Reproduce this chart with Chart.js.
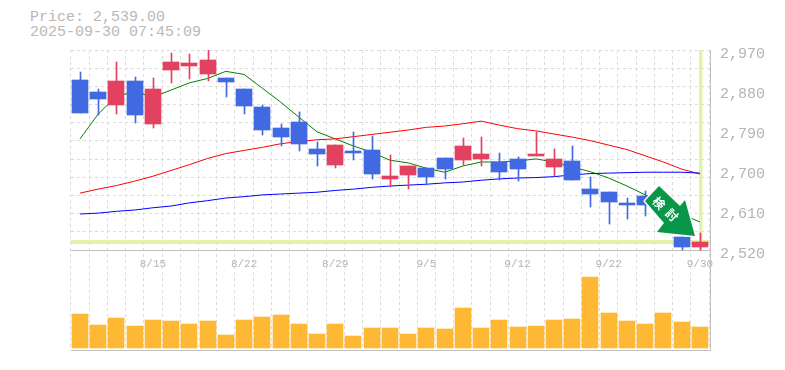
<!DOCTYPE html>
<html><head><meta charset="utf-8">
<style>
html,body{margin:0;padding:0;background:#fff;}
#wrap{position:relative;width:785px;height:370px;overflow:hidden;}
#head{position:absolute;left:30px;top:10px;font:15px/15px "Liberation Mono",monospace;color:#b8b8b8;white-space:pre;}
canvas{position:absolute;left:0;top:0;}
</style>
<script src="https://cdn.jsdelivr.net/npm/chart.js@4/dist/chart.umd.min.js"></script>
</head><body>
<div id="wrap"><div id="head">Price: 2,539.00
2025-09-30 07:45:09</div><canvas id="c" width="785" height="370"></canvas></div>
<script>
const dates=['8/11','8/12','8/13','8/14','8/15','8/18','8/19','8/20','8/21','8/22','8/25','8/26','8/27','8/28','8/29','9/1','9/2','9/3','9/4','9/5','9/8','9/9','9/10','9/11','9/12','9/16','9/17','9/18','9/19','9/22','9/24','9/25','9/26','9/29','9/30'];
const shownDates=['8/15','8/22','8/29','9/5','9/12','9/22','9/30'];
const opens=[2902.5,2875.5,2846,2900,2803.5,2925,2934,2916,2907,2882,2842,2794.5,2808,2747,2711,2743,2745,2680,2689,2704.5,2727,2722.5,2725,2718,2725,2731.5,2707,2720,2657,2650.5,2626,2641.5,2619,2549,2527];
const highs=[2920.5,2882,2943,2909,2907,2963,2961,2970,2907,2882,2846,2803.5,2830,2763,2756,2785.5,2776.5,2734,2709,2704.5,2727,2772,2774,2738,2729,2785.5,2747,2754,2684,2650.5,2637,2653,2632.5,2549,2558];
const lows=[2828,2824,2826,2806,2794.5,2896,2905,2900,2864,2826,2779,2754,2743,2709,2704.5,2722.5,2680,2662,2657,2666,2680,2711,2709,2677.5,2675,2731.5,2686.5,2677.5,2617,2578.5,2590,2596.5,2592,2520,2520];
const closes=[2828,2860,2900,2824,2882,2943,2941,2947.5,2898,2844,2790,2774,2758.5,2736,2756,2738,2691,2686.5,2709,2684,2702,2754,2736,2695.5,2702,2736,2725,2677.5,2646,2628,2621,2621,2605.5,2527,2539];
const maShort=[2770,2826,2866,2876,2864,2880,2896,2906,2922,2915,2884,2853,2819,2786,2770,2754,2740,2722,2716,2704,2695,2709,2718,2718,2720,2725,2718,2707,2696,2682,2664,2644,2624,2601,2583];
const maMid=[2648,2657,2665,2675,2686,2699,2712,2726,2737,2744,2751,2759,2764,2768,2770,2775,2780,2785,2790,2796,2799,2804,2810,2801,2793,2788,2781,2774,2766,2756,2746,2732,2718,2702,2691];
const maLong=[2601,2603,2607,2610,2615,2619,2626,2631,2637,2640,2644,2646,2648,2650,2654,2657,2661,2664,2666,2668,2671,2673,2677,2680,2682,2683,2685,2689,2692,2693,2694,2695,2695,2695,2693];
const volumes=[340,230,300,220,280,270,240,270,130,280,310,330,240,140,240,120,200,200,140,200,190,400,200,280,210,220,280,290,710,350,270,240,350,260,210];
const priceTicks=[2520,2610,2700,2790,2880,2970];
const lastPrice=2539;

const PRICE_MIN=2295,PRICE_MAX=2970,LABEL_SHIFT=9;
const BLUE='#4169e1',RED='#e2425f',GRID='#dcdcdc',FRAME='#c0c0c0',BAND='#e3f2aa',TXT='#b4b4b4';
const bodyColors=opens.map((o,i)=>closes[i]>=o?RED:BLUE);

function noPad(s){s.paddingLeft=s.paddingRight=s.paddingTop=s.paddingBottom=0;}

const crispBars={id:'crispBars',
 afterDatasetsUpdate(ch){
  ch.data.datasets.forEach((d,i)=>{
   if(d.type!=='bar')return;
   const nudge=d.label==='Wick'?0.5:0;
   ch.getDatasetMeta(i).data.forEach(el=>{
    el.x=Math.round(el.x)+nudge;el.y=Math.round(el.y);el.base=Math.round(el.base);
   });
  });
 }};
const frameAndBands={id:'frameAndBands',
 beforeDatasetsDraw(ch){
  const {ctx,chartArea:a,scales:{x,y}}=ch;
  const py=y.getPixelForValue(lastPrice), lx=x.getPixelForValue(dates.length-1), by=y.getPixelForValue(2520);
  ctx.save();ctx.fillStyle=BAND;
  ctx.fillRect(a.left,Math.round(py)-2,a.right+1-a.left,4);
  ctx.fillRect(Math.round(lx)-1,a.top,3.5,by-a.top);
  ctx.strokeStyle=FRAME;ctx.lineWidth=1;ctx.beginPath();
  const b=Math.round(by)+.5;
  ctx.moveTo(a.left,b);ctx.lineTo(a.right+2,b);
  ctx.moveTo(a.left,a.bottom+.5);ctx.lineTo(a.right+2,a.bottom+.5);
  ctx.moveTo(a.right+1.5,a.top);ctx.lineTo(a.right+1.5,a.bottom+1);
  ctx.stroke();ctx.restore();
 }};
const arrowBadge={id:'arrowBadge',
 afterDatasetsDraw(ch){
  const ctx=ch.ctx;
  const pts=[[659,186],[680,206],[685,200],[695,236],[657,232],[664,223],[645,201]];
  ctx.save();ctx.beginPath();
  pts.forEach((p,i)=>i?ctx.lineTo(p[0],p[1]):ctx.moveTo(p[0],p[1]));ctx.closePath();
  ctx.lineJoin='round';ctx.strokeStyle='#fff';ctx.lineWidth=3;ctx.stroke();
  ctx.fillStyle='#089648';ctx.fill();
  ctx.fillStyle='#fff';ctx.font='bold 12px "Noto Sans CJK JP"';ctx.textAlign='center';ctx.textBaseline='middle';
  [['検',659,203],['討',672,215]].forEach(t=>{ctx.save();ctx.translate(t[1],t[2]);ctx.rotate(Math.PI/4);ctx.fillText(t[0],0,0);ctx.restore();});
  ctx.restore();
 }};

new Chart(document.getElementById('c'),{
 data:{labels:dates,datasets:[
  {type:'bar',label:'Volume',data:volumes,yAxisID:'v',backgroundColor:'#ffb833',barThickness:16,order:5},
  {type:'line',label:'MA long',data:maLong,yAxisID:'y',borderColor:'#0000ff',borderWidth:1,pointRadius:0,tension:0,order:4},
  {type:'line',label:'MA mid',data:maMid,yAxisID:'y',borderColor:'#ff0000',borderWidth:1,pointRadius:0,tension:0,order:4},
  {type:'line',label:'MA short',data:maShort,yAxisID:'y',borderColor:'#008000',borderWidth:1,pointRadius:0,tension:0,order:4},
  {type:'bar',label:'Wick',data:highs.map((h,i)=>[lows[i],h]),yAxisID:'y',backgroundColor:bodyColors,barThickness:1,order:2},
  {type:'bar',label:'Body',data:opens.map((o,i)=>[o,closes[i]]),yAxisID:'y',backgroundColor:bodyColors,barThickness:16,order:1}
 ]},
 plugins:[crispBars,frameAndBands,arrowBadge],
 options:{
  responsive:false,animation:false,
  layout:{padding:{left:70.9,right:0,top:50,bottom:20}},
  plugins:{legend:{display:false},tooltip:{enabled:false}},
  datasets:{bar:{grouped:false}},
  scales:{
   x:{type:'category',offset:true,position:'bottom',
      grid:{color:GRID,lineWidth:1,drawTicks:false,offset:true},
      border:{display:false,dash:[3,3]},
      afterFit(s){s.height=0;noPad(s);},
      ticks:{autoSkip:false,maxRotation:0,mirror:true,padding:79,color:TXT,font:{family:'"Liberation Mono"',size:11},
        callback(v){const l=this.getLabelForValue(v);return shownDates.includes(l)?l:'';}}},
   y:{type:'linear',position:'right',min:PRICE_MIN,max:PRICE_MAX,display:true,
      afterBuildTicks(s){s.ticks=Array.from({length:12},(_,k)=>({value:2520+k*450/11}));},
      grid:{color:GRID,lineWidth:1,drawTicks:false},border:{display:false,dash:[3,3]},
      ticks:{display:false},afterFit(s){s.width=0;noPad(s);}},
   yLabels:{type:'linear',position:'right',min:PRICE_MIN+LABEL_SHIFT,max:PRICE_MAX+LABEL_SHIFT,
      afterBuildTicks(s){s.ticks=priceTicks.map(v=>({value:v}));},
      grid:{display:false,drawTicks:false},border:{display:false},
      afterFit(s){s.width=76;noPad(s);},
      ticks:{padding:11,color:TXT,font:{family:'"Liberation Mono"',size:15},callback:v=>v.toLocaleString('en-US')}},
   v:{type:'linear',display:false,min:-20,max:2980}
  }
 }
});
</script>
</body></html>
